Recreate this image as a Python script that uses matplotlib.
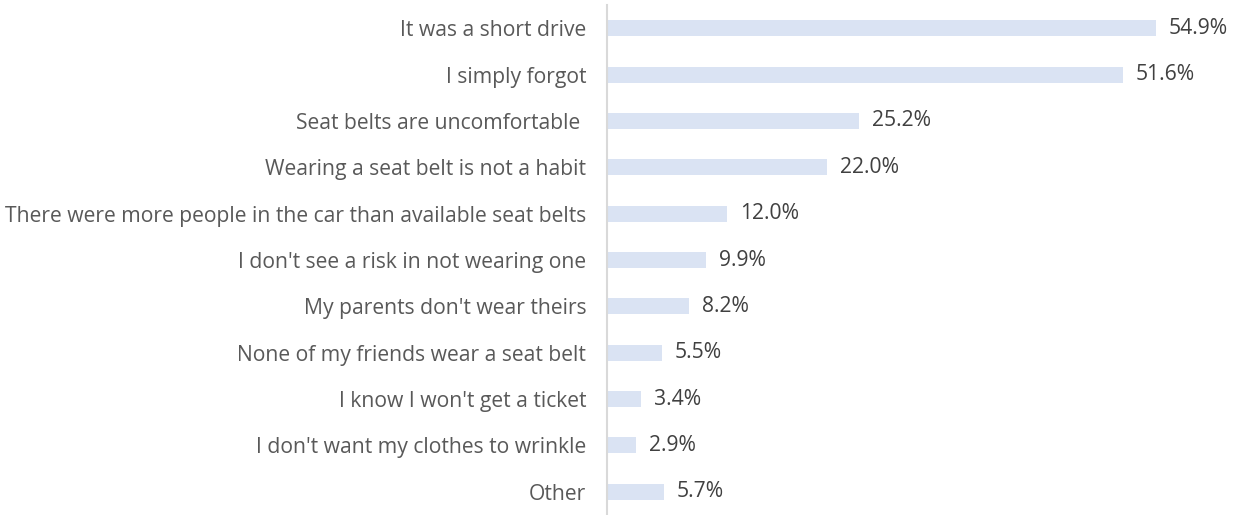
import matplotlib.pyplot as plt

reasons = [
    "It was a short drive",
    "I simply forgot",
    "Seat belts are uncomfortable ",
    "Wearing a seat belt is not a habit",
    "There were more people in the car than available seat belts",
    "I don't see a risk in not wearing one",
    "My parents don't wear theirs",
    "None of my friends wear a seat belt",
    "I know I won't get a ticket",
    "I don't want my clothes to wrinkle",
    "Other",
]
shares = [54.9, 51.6, 25.2, 22.0, 12.0, 9.9, 8.2, 5.5, 3.4, 2.9, 5.7]

plt.rcParams['font.family'] = ['Open Sans', 'DejaVu Sans']

fig = plt.figure(figsize=(12.39, 5.15), dpi=100)
ax = fig.add_axes([607 / 1239, 0, 1 - 607 / 1239, 510 / 515])

pos = list(range(len(reasons)))
ax.barh(pos, shares, height=0.345, color='#DAE3F3')
for y, v in zip(pos, shares):
    ax.annotate(f"{v:.1f}%", (v, y), xytext=(9.4, 0), textcoords='offset points',
                va='center', ha='left', fontsize=15.2, color='#404040')

ax.set_yticks(pos)
ax.set_yticklabels(reasons, fontsize=15.2, color='#595959')
ax.tick_params(axis='y', length=0, pad=15)
ax.set_ylim(len(reasons) - 0.5, -0.5)
ax.set_xlim(0, 63.2)
ax.set_xticks([])
for s in ['top', 'right', 'bottom']:
    ax.spines[s].set_visible(False)
ax.spines['left'].set_color('#D9D9D9')
ax.spines['left'].set_linewidth(1.5)

fig.savefig('out.png', dpi=100)
